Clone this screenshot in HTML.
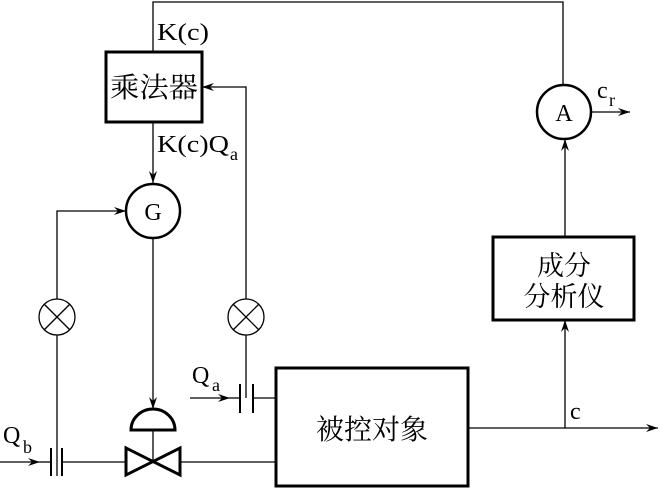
<!DOCTYPE html>
<html><head><meta charset="utf-8"><style>
html,body{margin:0;padding:0;background:#fff;}
svg text{font-family:"Liberation Serif","Noto Serif CJK SC",serif;fill:#000;}
</style></head><body>
<svg width="660" height="488" viewBox="0 0 660 488" xmlns="http://www.w3.org/2000/svg">
<defs>
<marker id="ar" viewBox="0 0 12 8" refX="12" refY="4" markerWidth="12" markerHeight="8" markerUnits="userSpaceOnUse" orient="auto">
<path d="M0,0 L12,4 L0,8 L4,4 Z" fill="#000"/></marker>
</defs>
<g stroke="#000" fill="none" stroke-width="1.3">
<polyline points="153,52 153,2 563,2 563,85"/>
<rect x="106" y="52" width="96" height="70" stroke-width="3"/>
<line x1="153" y1="122" x2="153" y2="183" marker-end="url(#ar)"/>
<polyline points="246,398 246,87 202,87" marker-end="url(#ar)"/>
<circle cx="153" cy="211" r="27" stroke-width="2.5"/>
<polyline points="57,476 57,211 126,211" marker-end="url(#ar)"/>
<circle cx="57" cy="317" r="18" fill="#fff"/>
<line x1="44" y1="304" x2="70" y2="330"/><line x1="70" y1="304" x2="44" y2="330"/>
<circle cx="246" cy="317" r="18" fill="#fff"/>
<line x1="233" y1="304" x2="259" y2="330"/><line x1="259" y1="304" x2="233" y2="330"/>
<line x1="153" y1="238" x2="153" y2="409" marker-end="url(#ar)"/>
<path d="M131,430 A22,21 0 0 1 175,430 Z" stroke-width="3"/>
<line x1="153" y1="430" x2="153" y2="462"/>
<path d="M126,448 L180,475 L180,448 L126,475 Z" stroke-width="3"/>
<line x1="0" y1="462" x2="40" y2="462" marker-end="url(#ar)"/>
<line x1="40" y1="462" x2="50" y2="462"/>
<line x1="63" y1="462" x2="126" y2="462"/>
<line x1="180" y1="462" x2="276" y2="462"/>
<line x1="51" y1="448" x2="51" y2="476" stroke-width="2"/>
<line x1="62" y1="448" x2="62" y2="476" stroke-width="2"/>
<line x1="190" y1="398" x2="230" y2="398" marker-end="url(#ar)"/>
<line x1="230" y1="398" x2="240" y2="398"/>
<line x1="253" y1="398" x2="276" y2="398"/>
<line x1="240" y1="384" x2="240" y2="413" stroke-width="2"/>
<line x1="253" y1="384" x2="253" y2="413" stroke-width="2"/>
<rect x="276" y="368" width="192" height="118" stroke-width="3"/>
<line x1="468" y1="428" x2="658" y2="428" marker-end="url(#ar)"/>
<line x1="565" y1="428" x2="565" y2="320" marker-end="url(#ar)"/>
<rect x="493" y="237" width="141" height="83" stroke-width="3"/>
<line x1="565" y1="237" x2="565" y2="139" marker-end="url(#ar)"/>
<circle cx="564" cy="112" r="27" stroke-width="2.5"/>
<line x1="591" y1="112" x2="630" y2="112" marker-end="url(#ar)"/>
</g>
<g font-size="24">
<text x="157" y="40" textLength="52" lengthAdjust="spacingAndGlyphs">K(c)</text>
<text x="157" y="152" textLength="72" lengthAdjust="spacingAndGlyphs">K(c)Q</text>
<text x="230" y="160" font-size="18">a</text>
<text x="153" y="220" text-anchor="middle">G</text>
<text x="564" y="121" text-anchor="middle">A</text>
<text x="597" y="98">c</text>
<text x="609" y="106" font-size="18">r</text>
<text x="570" y="419">c</text>
<text x="192" y="383">Q</text>
<text x="212" y="391" font-size="18">a</text>
<text x="3" y="443">Q</text>
<text x="23" y="453" font-size="18">b</text>
<text x="154" y="97" text-anchor="middle" font-size="28" textLength="88" lengthAdjust="spacingAndGlyphs">乘法器</text>
<text x="564" y="275" text-anchor="middle" font-size="27">成分</text>
<text x="564" y="306" text-anchor="middle" font-size="27">分析仪</text>
<text x="372" y="439" text-anchor="middle" font-size="28">被控对象</text>
</g>
</svg>
</body></html>
